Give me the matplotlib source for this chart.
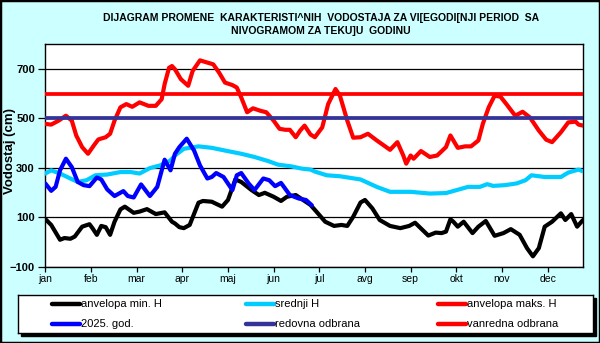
import matplotlib
matplotlib.use('Agg')
import matplotlib.pyplot as plt
from matplotlib.patches import Rectangle
from matplotlib import font_manager

# ---------------- data ----------------
months = ['jan', 'feb', 'mar', 'apr', 'maj', 'jun', 'jul', 'avg', 'sep', 'okt', 'nov', 'dec']
month_days = [0, 31, 62, 93, 124, 155, 186, 217, 248, 279, 310, 341]
y_ticks = [-100, 100, 300, 500, 700]

min_days = [0, 4, 10, 13, 17, 20, 25, 30, 32, 35, 38, 41, 44, 47, 51, 54, 60, 64, 69, 75,
            81, 86, 88, 91, 94, 98, 104, 107, 113, 120, 124, 129, 133, 140, 145, 149, 155, 160, 164, 170,
            175, 180, 184, 190, 196, 201, 205, 209, 214, 217, 222, 227, 234, 241, 247, 251, 256, 260, 265, 269,
            272, 275, 277, 280, 284, 290, 294, 299, 305, 311, 316, 322, 327, 331, 335, 339, 344, 350, 353, 357,
            361, 365]
min_vals = [93, 69, 9, 16, 13, 22, 62, 72, 56, 29, 65, 60, 29, 82, 132, 143, 118, 123, 133, 113,
            120, 82, 75, 60, 56, 69, 159, 166, 163, 143, 170, 253, 243, 210, 190, 199, 183, 166, 183, 190,
            170, 150, 123, 82, 65, 69, 65, 102, 160, 170, 136, 89, 65, 56, 65, 78, 49, 26, 38, 36,
            42, 92, 82, 62, 82, 36, 62, 85, 25, 36, 52, 29, -25, -58, -25, 62, 82, 116, 89, 113,
            62, 89]

mean_days = [0, 4, 10, 17, 22, 28, 34, 42, 51, 58, 64, 71, 78, 85, 88, 94, 104, 113, 122, 133,
             142, 151, 158, 167, 174, 180, 183, 191, 200, 214, 225, 234, 248, 261, 272, 281, 287, 295, 300, 304,
             312, 320, 326, 330, 339, 350, 355, 362, 365]
mean_vals = [277, 290, 277, 257, 243, 250, 270, 273, 283, 283, 277, 299, 310, 330, 350, 377, 387, 381, 370, 357,
             344, 328, 313, 306, 297, 293, 285, 270, 266, 253, 223, 203, 203, 196, 198, 213, 223, 223, 234, 227,
             230, 237, 250, 270, 263, 263, 281, 293, 286]

max_days = [0, 4, 9, 14, 18, 21, 25, 29, 33, 36, 41, 44, 47, 51, 55, 59, 64, 70, 75, 79,
            81, 84, 86, 88, 92, 97, 100, 105, 110, 114, 118, 122, 127, 130, 133, 137, 141, 146, 150, 155,
            159, 163, 166, 170, 173, 176, 180, 183, 188, 192, 197, 200, 205, 209, 214, 219, 225, 234, 239, 243,
            245, 248, 250, 255, 261, 266, 272, 275, 280, 285, 289, 294, 297, 301, 305, 309, 313, 319, 324, 329,
            335, 340, 344, 350, 355, 360, 362, 365]
max_vals = [478, 475, 491, 511, 491, 431, 384, 357, 391, 415, 424, 438, 491, 545, 558, 547, 565, 551, 551, 578,
            639, 705, 712, 699, 659, 632, 692, 735, 726, 719, 685, 645, 635, 625, 585, 525, 541, 531, 525, 491,
            458, 454, 454, 424, 451, 471, 435, 424, 464, 558, 619, 592, 491, 422, 424, 438, 411, 373, 404, 350,
            317, 350, 337, 368, 344, 350, 384, 431, 381, 387, 387, 411, 478, 545, 592, 588, 558, 511, 527, 504,
            451, 414, 404, 444, 484, 487, 475, 471]

cur_days = [0, 4, 7, 10, 14, 18, 22, 26, 30, 35, 38, 42, 47, 53, 56, 60, 65, 71, 76, 81,
            85, 88, 91, 96, 101, 105, 110, 113, 116, 121, 127, 130, 133, 138, 142, 148, 152, 156, 160, 166,
            172, 177, 181]
cur_vals = [237, 207, 223, 290, 337, 303, 243, 230, 226, 261, 253, 213, 186, 206, 186, 180, 233, 186, 223, 333,
            290, 357, 384, 418, 370, 310, 257, 263, 279, 263, 210, 270, 279, 237, 210, 257, 250, 226, 239, 190,
            176, 170, 148]

redovna_odbrana = 500
vanredna_odbrana = 600

labels = ['anvelopa min. H', 'srednji H', 'anvelopa maks. H',
          '2025. god.', 'redovna odbrana', 'vanredna odbrana']
colors = ['#000000', '#00CCFF', '#FF0000', '#0000FF', '#333399', '#FF0000']

title = 'DIJAGRAM PROMENE  KARAKTERISTI^NIH  VODOSTAJA ZA VI[EGODI[NJI PERIOD  SA\nNIVOGRAMOM ZA TEKU]U  GODINU'

# ---------------- fonts ----------------
names = {f.name for f in font_manager.fontManager.ttflist}
base = 'Liberation Sans' if 'Liberation Sans' in names else 'DejaVu Sans'
plt.rcParams['font.family'] = [base, 'DejaVu Sans']

W, H = 600, 343
BG = '#CCFFFF'
fig = plt.figure(figsize=(W / 100, H / 100), dpi=100, facecolor=BG)

def fx(px):
    return px / W

def fy(py):
    return 1 - py / H

# ---------------- main axes ----------------
L, R, T, B = 45.3, 583, 44.3, 266.7
ax = fig.add_axes([fx(L), fy(B), fx(R - L), (B - T) / H])
ax.set_facecolor('white')
ax.set_xlim(0, 365)
ax.set_ylim(-100, 800)
ax.set_yticks(y_ticks)
ax.set_xticks(month_days)
ax.set_xticklabels(months)
ax.yaxis.grid(True, color='black', lw=0.9, zorder=1)
ax.set_axisbelow(True)
for s in ax.spines.values():
    s.set_color('black')
    s.set_linewidth(1.0)
ax.tick_params(axis='y', direction='out', length=5, width=0.9, pad=2.5, labelsize=8)
ax.tick_params(axis='x', direction='out', length=3.5, width=0.9, pad=2, labelsize=7.5)
for lab in ax.get_yticklabels():
    lab.set_fontweight('bold')

lw = 3.0
kw = dict(solid_joinstyle='round', solid_capstyle='round', lw=lw)
ax.plot(min_days, min_vals, color=colors[0], zorder=3, **kw)
ax.plot(mean_days, mean_vals, color=colors[1], zorder=4, **kw)
ax.plot(max_days, max_vals, color=colors[2], zorder=5, **kw)
ax.plot(cur_days, cur_vals, color=colors[3], zorder=6, **kw)
ax.axhline(redovna_odbrana, color=colors[4], lw=2.7, zorder=7)
ax.axhline(vanredna_odbrana, color=colors[5], lw=2.7, zorder=8)

ax.set_ylabel('Vodostaj (cm)', fontsize=9.5, fontweight='bold', va='center')
ax.yaxis.set_label_coords((10.5 - L) / (R - L), (B - 151) / (B - T))

fig.text(fx(321), fy(24.5), title, ha='center', va='center', fontsize=7.5,
         fontweight='bold', linespacing=1.45)

# ---------------- legend ----------------
lx0, lx1, ly0, ly1 = 18, 593, 295, 333
sh = 3
fig.patches.append(Rectangle((fx(lx0 + sh), fy(ly1 + sh)), fx(lx1 - lx0), (ly1 - ly0) / H,
                             transform=fig.transFigure, facecolor='black', edgecolor='black', zorder=1))
lax = fig.add_axes([fx(lx0), fy(ly1), fx(lx1 - lx0), (ly1 - ly0) / H], zorder=2)
lax.set_xlim(lx0, lx1)
lax.set_ylim(ly1, ly0)
lax.set_facecolor('white')
lax.set_xticks([])
lax.set_yticks([])
for s in lax.spines.values():
    s.set_color('black')
    s.set_linewidth(1.0)
col_x = [51.7, 246, 438.3]
row_y = [304.3, 324.3]
for i, (lab, c) in enumerate(zip(labels, colors)):
    r, k = divmod(i, 3)
    x0 = col_x[k]
    lax.plot([x0, x0 + 28], [row_y[r], row_y[r]], color=c, lw=3.2, solid_capstyle='round')
    lax.text(x0 + 29, row_y[r], lab, va='center', ha='left', fontsize=8)

# ---------------- figure border ----------------
fig.patches.append(Rectangle((0, 0), 1, 1, transform=fig.transFigure, fill=False,
                             edgecolor='black', lw=2.5, zorder=10))

fig.savefig('out.png', dpi=100, facecolor=BG)
